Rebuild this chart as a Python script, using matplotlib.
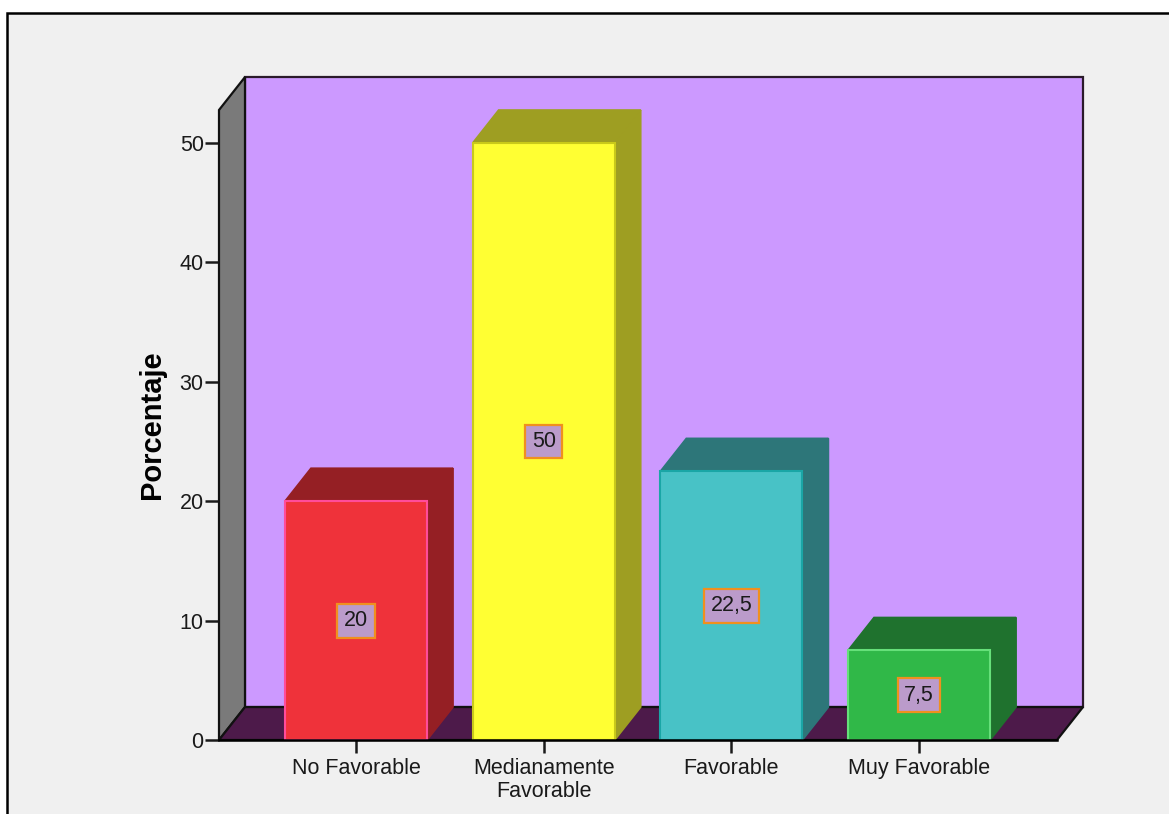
import matplotlib
matplotlib.use("Agg")
import matplotlib.pyplot as plt
from matplotlib.patches import Rectangle, Polygon

plt.rcParams['font.family'] = ['Liberation Sans', 'DejaVu Sans']

# data
categories = ['No Favorable', 'Medianamente\nFavorable', 'Favorable', 'Muy Favorable']
porcentaje = [20, 50, 22.5, 7.5]
value_labels = ['20', '50', '22,5', '7,5']
y_ticks = [0, 10, 20, 30, 40, 50]

# colours: front face, side/top face, front edge
front_colors = ['#EF323A', '#FFFF33', '#48C2C6', '#30B848']
side_colors = ['#951F24', '#9E9E22', '#2D7679', '#1F722E']
edge_colors = ['#FF4C9A', '#C9C91A', '#1AA6A6', '#66E07A']

wall_color = '#CC99FF'
side_wall_color = '#7A7A7A'
floor_color = '#4D1A4A'

fig = plt.figure(figsize=(11.69, 8.14), dpi=100)
fig.patch.set_facecolor('white')
fig.patches.append(Rectangle((7 / 1169, -0.05), 1.1, 1.05 - 13 / 814,
                             transform=fig.transFigure, facecolor='#F0F0F0',
                             edgecolor='black', linewidth=1.8, zorder=-5))

ax = fig.add_axes([219 / 1169, 74 / 814, 838 / 1169, 630 / 814])
ax.set_facecolor('none')

xl, xr = -0.73, 3.735
ymax = 52.76
dx, dy = 0.1385, 2.76  # depth offset for the 3D look
w = 0.757

ax.set_xlim(xl, xr)
ax.set_ylim(0, ymax)
for s in ax.spines.values():
    s.set_visible(False)

# back wall, left wall and floor
ax.add_patch(Polygon([(xl + dx, dy), (xr + dx, dy), (xr + dx, ymax + dy), (xl + dx, ymax + dy)],
                     closed=True, facecolor=wall_color, edgecolor='#2A1A2A', linewidth=1.6,
                     clip_on=False, zorder=1))
ax.add_patch(Polygon([(xl, 0), (xl + dx, dy), (xl + dx, ymax + dy), (xl, ymax)],
                     closed=True, facecolor=side_wall_color, edgecolor='#111111', linewidth=1.6,
                     clip_on=False, zorder=2))
ax.add_patch(Polygon([(xl, 0), (xr, 0), (xr + dx, dy), (xl + dx, dy)],
                     closed=True, facecolor=floor_color, edgecolor='#111111', linewidth=1.6,
                     clip_on=False, zorder=2))

for i, v in enumerate(porcentaje):
    x0, x1 = i - w / 2, i + w / 2
    ax.add_patch(Polygon([(x1, 0), (x1 + dx, dy), (x1 + dx, v + dy), (x1, v)],
                         closed=True, facecolor=side_colors[i], edgecolor=side_colors[i],
                         linewidth=1.2, clip_on=False, zorder=3))
    ax.add_patch(Polygon([(x0, v), (x1, v), (x1 + dx, v + dy), (x0 + dx, v + dy)],
                         closed=True, facecolor=side_colors[i], edgecolor=side_colors[i],
                         linewidth=1.2, clip_on=False, zorder=3))
    ax.bar(i, v, width=w, color=front_colors[i], edgecolor=edge_colors[i],
           linewidth=1.5, zorder=4, clip_on=False)
    ax.text(i, v / 2, value_labels[i], ha='center', va='center', fontsize=15.5,
            color='#1A1A1A', zorder=5,
            bbox=dict(boxstyle='square,pad=0.3', facecolor='#BB9BCB',
                      edgecolor='#F0901E', linewidth=1.6))

# bottom edge of the front plane
ax.plot([xl, xr], [0, 0], color='black', linewidth=1.8, zorder=6, clip_on=False)

ax.set_xticks(range(len(categories)))
ax.set_xticklabels(categories, fontsize=15.5, linespacing=1.1)
ax.set_yticks(y_ticks)
ax.set_yticklabels([str(t) for t in y_ticks], fontsize=15.5)
ax.tick_params(axis='y', direction='out', length=10, width=1.8, pad=1, colors='#1A1A1A')
ax.tick_params(axis='x', direction='out', length=9, width=1.8, pad=4, colors='#1A1A1A')

ax.text(-0.08, 0.5, 'Porcentaje', transform=ax.transAxes, rotation=90,
        ha='center', va='center', fontsize=21, fontweight='bold', color='black')

fig.savefig('out.png', dpi=100, facecolor=fig.get_facecolor())
